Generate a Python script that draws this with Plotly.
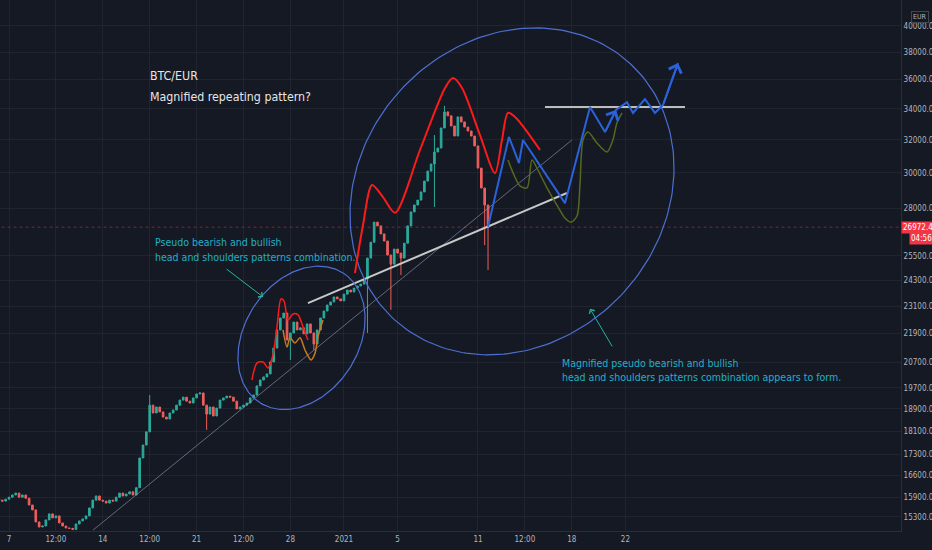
import numpy as np
import plotly.graph_objects as go

# BTC/EUR 6h candles, x = days since 7 Dec 2020 00:00
closes = [15810, 15780, 15840, 15900, 15970, 16030, 15900, 15970, 15870, 15660,
          15510, 15150, 15000, 15030, 15210, 15390, 15270, 15330, 15120, 15030,
          14970, 14960, 14930, 15090, 15180, 15240, 15330, 15570, 15810, 15940,
          15810, 15780, 15720, 15810, 15780, 15900, 16030, 15940, 16000, 16070,
          15970, 16200, 17170, 17610, 18070, 19040, 18750, 18970, 18790, 18600,
          18530, 18750, 18860, 19040, 19230, 19340, 19190, 19120, 19310, 19460,
          19500, 19040, 18710, 18970, 18640, 18930, 19230, 19310, 19380, 19340,
          19190, 18900, 18970, 19040, 19120, 19310, 19420, 19770, 20000, 20120,
          20240, 20720, 21290, 22060, 22580, 22800, 21630, 21930, 22400, 22060,
          22150, 21890, 22320, 21930, 21460, 22060, 22580, 22890, 23160, 23300,
          23530, 23440, 23350, 23660, 23850, 23760, 23940, 24040, 24130, 24370,
          25390, 26190, 27240, 27040, 26620, 26250, 25540, 25090, 25840, 25640,
          25390, 26140, 27040, 27790, 28170, 28440, 28900, 29520, 30100, 30520,
          31250, 31490, 32750, 33800, 33540, 32880, 32240, 33470, 33140, 32810,
          32560, 32240, 31620, 30280, 29120, 28170, 26972.4]
first_open = 15850
wick_hi = {45: 19420, 130: 32300, 133: 34200}
wick_lo = {62: 18140, 87: 20800, 94: 21210, 110: 21930, 117: 22940,
           120: 24560, 130: 28060, 145: 26040, 146: 24800}
last_price = 26972.4

tick_days = [0, 3.5, 7, 10.5, 14, 17.5, 21, 25, 29, 35, 38.5, 42, 46]
tick_text = ['7', '12:00', '14', '12:00', '21', '12:00', '28', '2021', '5', '11', '12:00', '18', '22']
price_ticks = [15300, 15900, 16600, 17300, 18100, 18900, 19700, 20700, 21900, 23100,
               24300, 25500, 28000, 30000, 32000, 34000, 36000, 38000, 40000, 42000]

# drawings, (day, price)
red_big_x = [25.82, 26.42, 27.09, 27.91, 28.81, 30.67, 32.54, 33.13, 33.81, 35.15, 36.27, 36.79, 37.24, 37.84, 39.63]
red_big_y = [24660, 27090, 29290, 28610, 27740, 31370, 35420, 36110, 35420, 32300, 29980, 31990, 33730, 33400, 31370]
red_small_x = [18.13, 18.51, 18.96, 19.33, 19.70, 20.0, 20.30, 20.52, 20.82, 21.19, 21.57, 21.94, 22.31]
red_small_y = [20000, 20680, 20720, 20480, 21010, 22190, 23440, 23350, 22490, 22760, 22720, 22190, 21630]
orange_x = [20.45, 20.75, 20.97, 21.34, 21.72, 22.09, 22.54, 22.84, 23.06, 23.43]
orange_y = [22060, 21330, 21720, 21500, 21720, 21210, 20800, 21080, 21760, 22490]
olive_x = [37.24, 37.69, 38.13, 38.66, 39.03, 39.40, 40.15, 40.97, 41.49, 41.94, 42.39, 42.61,
           42.84, 43.21, 43.88, 44.63, 45.07, 45.37, 45.75]
olive_y = [30760, 29870, 29240, 29130, 30760, 30280, 29130, 28060, 27460, 27240, 27570, 29290,
           31990, 32490, 31800, 31250, 31990, 33070, 33730]
blue_x = [35.75, 37.31, 38.06, 38.36, 41.49, 43.36, 44.48, 45.30, 46.12, 46.57, 47.46, 48.21, 48.81, 49.93]
blue_y = [26990, 32180, 30580, 31990, 28270, 34130, 32490, 33930, 34450, 33730, 34660, 33730, 34260, 37190]
trend_thin_x = [6.27, 42.01]
trend_thin_y = [14910, 31990]
trend_thick_x = [22.31, 41.64]
trend_thick_y = [23250, 28840]
level_x = [40.0, 50.45]
level_y = [34130, 34130]
ell_small = dict(cx=21.83, cy=21720, a=5.75, b=4.25, rot=57)
ell_big = dict(cx=37.54, cy=28930, a=12.99, b=11.24, rot=46.8)
DAYS_PER_DECADE = 87.8  # screen aspect of the chart (x days vs one log10 unit)

BG = '#151924'
GRID = 'rgba(42,46,57,0.55)'
AXIS_TXT = '#b2b5be'
GREEN = '#2bab9c'
RED = '#ef5f5c'
CYAN = '#22b0c6'
FONT = 'Liberation Sans Narrow, DejaVu Sans Condensed, Roboto, sans-serif'


def ellipse(e):
    t = np.linspace(0, 2 * np.pi, 240)
    r = np.radians(e['rot'])
    dx = e['a'] * np.cos(t) * np.cos(r) - e['b'] * np.sin(t) * np.sin(r)
    dy = e['a'] * np.cos(t) * np.sin(r) + e['b'] * np.sin(t) * np.cos(r)
    return e['cx'] + dx, e['cy'] * 10 ** (dy / DAYS_PER_DECADE)


x_days = np.arange(len(closes)) * 0.25 - 0.75
opens = [first_open] + closes[:-1]
highs = [max(o, c, wick_hi.get(i, 0)) for i, (o, c) in enumerate(zip(opens, closes))]
lows = [min(o, c, wick_lo.get(i, 1e9)) for i, (o, c) in enumerate(zip(opens, closes))]

fig = go.Figure()

# current price line
fig.add_trace(go.Scatter(x=[-1, 70], y=[last_price, last_price], mode='lines',
                         line=dict(color='rgba(242,54,69,0.45)', width=1, dash='dot'), hoverinfo='skip'))

fig.add_trace(go.Candlestick(
    x=x_days, open=opens, high=highs, low=lows, close=closes,
    increasing=dict(line=dict(color=GREEN, width=1), fillcolor=GREEN),
    decreasing=dict(line=dict(color=RED, width=1), fillcolor=RED),
    whiskerwidth=0, hoverinfo='skip'))


def line(x, y, color, width, shape='linear', dash='solid'):
    fig.add_trace(go.Scatter(x=x, y=y, mode='lines', hoverinfo='skip',
                             line=dict(color=color, width=width, shape=shape, smoothing=0.8, dash=dash)))


line(trend_thin_x, trend_thin_y, 'rgba(150,160,185,0.75)', 0.8)
line(trend_thick_x, trend_thick_y, '#c8c8c8', 2)
line(level_x, level_y, '#bdbdbd', 2)
for e in (ell_small, ell_big):
    ex, ey = ellipse(e)
    line(ex, ey, '#4d6fd1', 1.2)
line(red_big_x, red_big_y, '#ff1a1a', 2, 'spline')
line(red_small_x, red_small_y, '#ff1a1a', 1.5, 'spline')
line(orange_x, orange_y, '#c97a1c', 1.5, 'spline')
line(olive_x, olive_y, '#55691e', 1.5, 'spline')
line(blue_x, blue_y, '#2a62d9', 2)

L = np.log10
annotations = [
    # blue arrow heads
    dict(x=blue_x[-1], y=L(blue_y[-1]), ax=blue_x[-2], ay=L(blue_y[-2]), axref='x', ayref='y',
         showarrow=True, arrowhead=4, arrowsize=1.3, arrowwidth=2, arrowcolor='#2a62d9', text=''),
    dict(x=blue_x[7], y=L(blue_y[7]), ax=blue_x[6], ay=L(blue_y[6]), axref='x', ayref='y',
         showarrow=True, arrowhead=4, arrowsize=1.3, arrowwidth=2, arrowcolor='#2a62d9', text=''),
    # cyan pointer arrows
    dict(x=18.96, y=L(23530), ax=-38, ay=-29, showarrow=True, arrowhead=4, arrowsize=1.2,
         arrowwidth=1, arrowcolor='#26b3a0', text=''),
    dict(x=43.36, y=L(22990), ax=23, ay=39, showarrow=True, arrowhead=4, arrowsize=1.2,
         arrowwidth=1, arrowcolor='#26b3a0', text=''),
]

texts = [
    ('BTC/EUR', 10.37, 4.5594, '#e6e6e6', 12.3),
    ('Magnified repeating pattern?', 10.37, 4.5416, '#e6e6e6', 12.3),
    ('Pseudo bearish and bullish', 10.75, 4.4183, CYAN, 10.5),
    ('head and shoulders patterns combination.', 10.75, 4.4056, CYAN, 10.5),
    ('Magnified pseudo bearish and bullish', 41.12, 4.3155, CYAN, 10.5),
    ('head and shoulders patterns combination appears to form.', 41.12, 4.3036, CYAN, 10.5),
]
for t, x, y, c, s in texts:
    annotations.append(dict(x=x, y=y, text=t, showarrow=False, xanchor='left', yanchor='middle',
                            font=dict(family=FONT, size=s, color=c)))

# price scale labels
annotations += [
    dict(xref='paper', x=1.0, y=L(last_price), text='26972.4', showarrow=False, xanchor='left',
         bgcolor='#f23645', font=dict(family=FONT, size=8, color='white'), borderpad=1),
    dict(xref='paper', x=1.0, xshift=8, y=L(last_price), yshift=-11, text='04:56', showarrow=False,
         xanchor='left', bgcolor='#f23645', font=dict(family=FONT, size=8, color='white'), borderpad=1),
    dict(xref='paper', yref='paper', x=1.0, xshift=10, y=1.0, yshift=-11, text='EUR', showarrow=False,
         xanchor='left', bordercolor='#434651', borderwidth=1, borderpad=1,
         font=dict(family=FONT, size=7, color=AXIS_TXT)),
]

fig.update_layout(
    width=932, height=550, margin=dict(l=0, r=31, t=0, b=19),
    paper_bgcolor=BG, plot_bgcolor=BG, showlegend=False,
    annotations=annotations,
    xaxis=dict(range=[-0.672, 66.57], tickvals=tick_days, ticktext=tick_text, showgrid=True,
               gridcolor=GRID, zeroline=False, rangeslider=dict(visible=False), ticks='',
               tickfont=dict(family=FONT, size=8, color=AXIS_TXT), showline=True,
               linecolor='#2a2e39', automargin=False, fixedrange=True),
    yaxis=dict(type='log', range=[4.1727, 4.624], side='right', tickvals=price_ticks,
               ticktext=[f'{v:.1f}' for v in price_ticks], showgrid=True, gridcolor=GRID,
               zeroline=False, ticks='', tickfont=dict(family=FONT, size=8, color=AXIS_TXT),
               showline=True, linecolor='#2a2e39', automargin=False),
)

fig.write_html("out.html", config={'displayModeBar': False},
               post_script="document.body.style.margin='0px';")
